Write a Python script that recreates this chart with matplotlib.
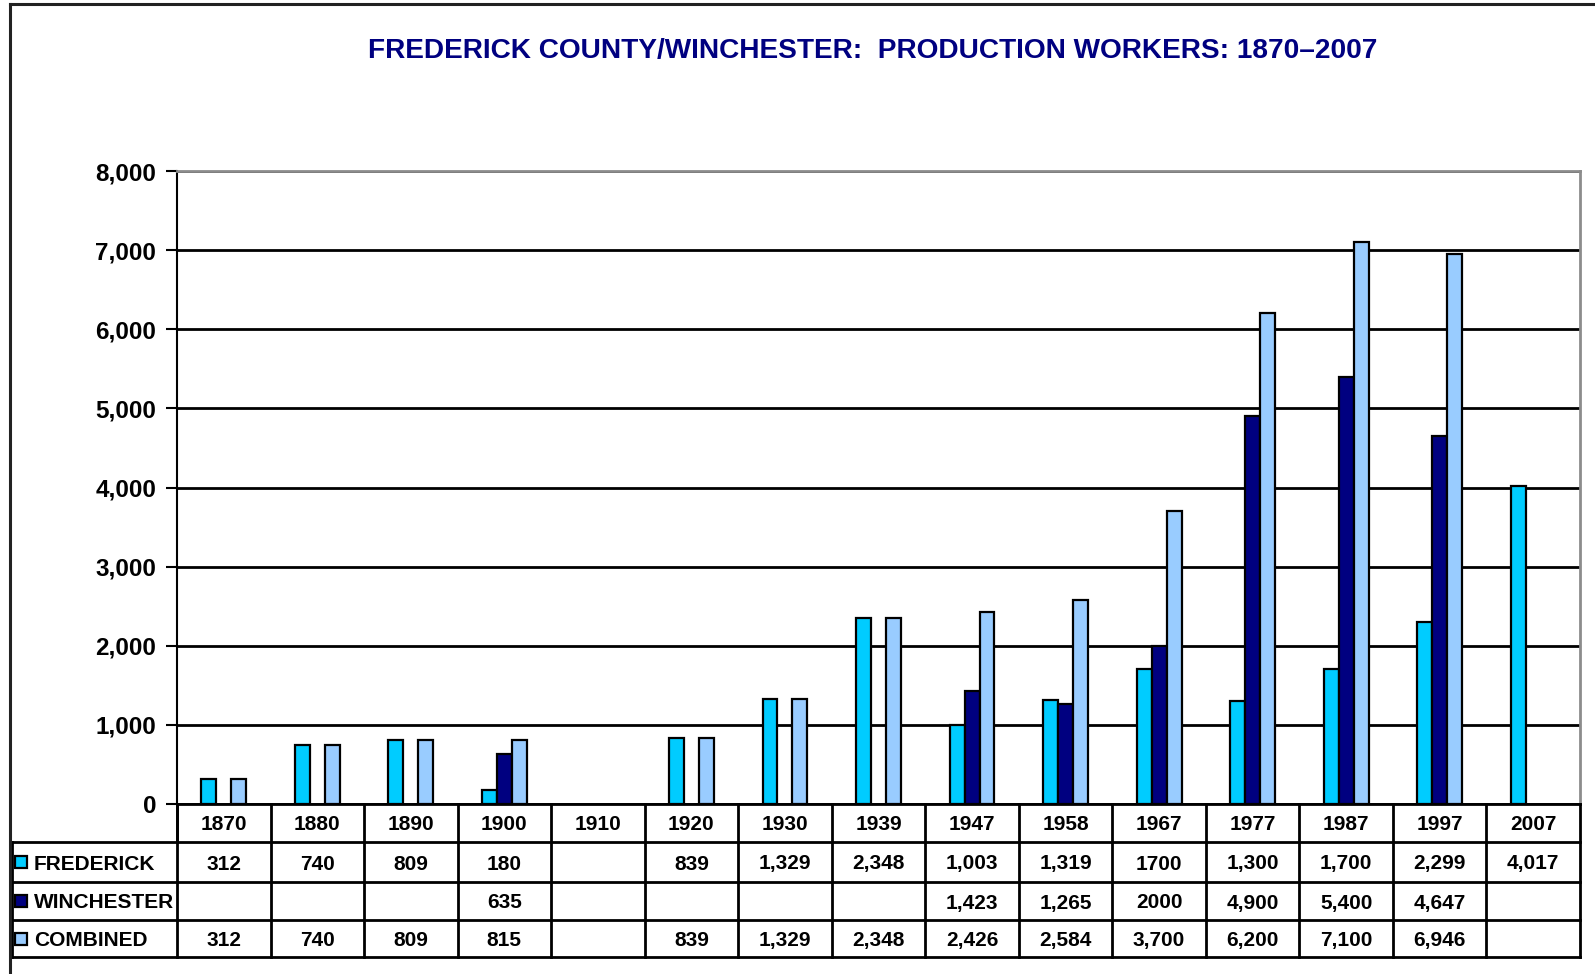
import numpy as np
import matplotlib
matplotlib.use('Agg')
import matplotlib.pyplot as plt
from matplotlib.patches import Rectangle
from matplotlib.lines import Line2D
import matplotlib.transforms as mtransforms

plt.rcParams['font.family'] = ['Liberation Sans', 'DejaVu Sans']
plt.rcParams['font.weight'] = 'bold'

# data (as printed in the table under the chart)
years            = ['1870', '1880', '1890', '1900', '1910', '1920', '1930', '1939',
                    '1947', '1958', '1967', '1977', '1987', '1997', '2007']
frederick_text   = ['312', '740', '809', '180', '', '839', '1,329', '2,348',
                    '1,003', '1,319', '1700', '1,300', '1,700', '2,299', '4,017']
winchester_text  = ['', '', '', '635', '', '', '', '',
                    '1,423', '1,265', '2000', '4,900', '5,400', '4,647', '']
combined_text    = ['312', '740', '809', '815', '', '839', '1,329', '2,348',
                    '2,426', '2,584', '3,700', '6,200', '7,100', '6,946', '']

series_names  = ['FREDERICK', 'WINCHESTER', 'COMBINED']
series_colors = ['#00CCFF', '#000080', '#99CCFF']
series_text   = [frederick_text, winchester_text, combined_text]

title = 'FREDERICK COUNTY/WINCHESTER:  PRODUCTION WORKERS: 1870\u20132007'


def to_values(labels):
    return np.array([float(s.replace(',', '')) if s else np.nan for s in labels])


W, H = 1595, 974
fig = plt.figure(figsize=(W / 100, H / 100), dpi=100)

# pixel transform, y pointing down
px = mtransforms.Affine2D().scale(1 / W, -1 / H).translate(0, 1) + fig.transFigure

left, right, top, bottom = 177, 1580, 171, 804
ax = fig.add_axes([left / W, 1 - bottom / H, (right - left) / W, (bottom - top) / H])

x = np.arange(len(years))
bar_w = 0.16
offsets = [-bar_w, 0, bar_w]
for name, color, labels, off in zip(series_names, series_colors, series_text, offsets):
    vals = to_values(labels)
    mask = ~np.isnan(vals)
    ax.bar(x[mask] + off, vals[mask], width=bar_w, color=color,
           edgecolor='black', linewidth=1.6, zorder=3)

ax.set_xlim(-0.5, len(years) - 0.5)
ax.set_ylim(0, 8000)
yt = np.arange(0, 8001, 1000)
ax.set_yticks(yt)
ax.set_yticklabels(['{:,}'.format(int(v)) for v in yt], fontsize=17.5, fontweight='bold')
ax.set_xticks([])
ax.tick_params(axis='y', direction='out', length=8, width=1.5, pad=7)
ax.yaxis.grid(True, color='black', linewidth=2)
ax.set_axisbelow(True)
ax.spines['left'].set_linewidth(1.5)
ax.spines['bottom'].set_linewidth(2)
for s in ['top', 'right']:
    ax.spines[s].set_color('#8c8c8c')
    ax.spines[s].set_linewidth(2)

# data table below the axes
row_edges = [804, 842, 882, 920, 957]
tab_left = 12
col_tr = mtransforms.blended_transform_factory(ax.transData, px)
lw = 2
tab_fs = 15
base_off = 7.5   # baseline sits this many px below the row middle

# column boundaries
for b in np.arange(len(years) + 1) - 0.5:
    fig.add_artist(Line2D([b, b], [row_edges[0], row_edges[-1]], transform=col_tr,
                          color='black', linewidth=lw))
# horizontal lines
for yy in row_edges[1:]:
    fig.add_artist(Line2D([tab_left, right], [yy, yy], transform=px,
                          color='black', linewidth=lw))
fig.add_artist(Line2D([tab_left, tab_left], [row_edges[1], row_edges[-1]], transform=px,
                      color='black', linewidth=lw))
fig.add_artist(Line2D([left, left], [row_edges[0], row_edges[1]], transform=px,
                      color='black', linewidth=lw))

row_mid = [(a + b) / 2 for a, b in zip(row_edges[:-1], row_edges[1:])]
for i, yr in enumerate(years):
    fig.text(i, row_mid[0] + base_off, yr, transform=col_tr, ha='center', va='baseline',
             fontsize=tab_fs, fontweight='bold')
for r, (name, color, labels) in enumerate(zip(series_names, series_colors, series_text)):
    ym = row_mid[r + 1]
    fig.add_artist(Rectangle((15, ym - 6), 12, 12, transform=px,
                             facecolor=color, edgecolor='black', linewidth=1.6))
    fig.text(34, ym + base_off, name, transform=px, ha='left', va='baseline',
             fontsize=tab_fs, fontweight='bold')
    for i, s in enumerate(labels):
        if s:
            fig.text(i, ym + base_off, s, transform=col_tr, ha='center', va='baseline',
                     fontsize=tab_fs, fontweight='bold')

# outer frame (left and top edges)
fig.add_artist(Line2D([10, 10], [4, H], transform=px, color='#222222', linewidth=2.2))
fig.add_artist(Line2D([10, W], [4, 4], transform=px, color='#222222', linewidth=2.2))

fig.text(873 / W, 1 - 51 / H, title, ha='center', va='center',
         fontsize=20.2, fontweight='bold', color='#000080')

fig.savefig('out.png', dpi=100)
